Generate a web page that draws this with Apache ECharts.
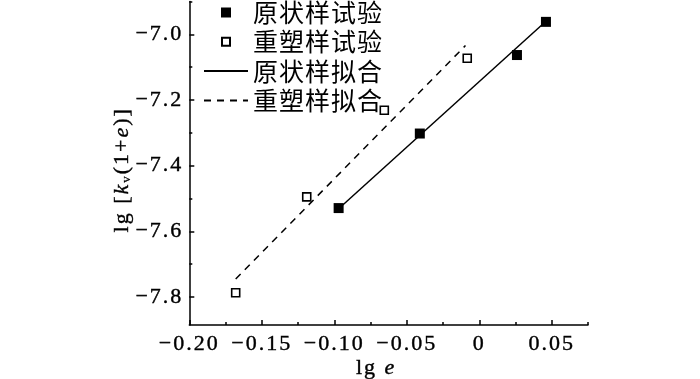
<!DOCTYPE html>
<html>
<head>
<meta charset="utf-8">
<script src="https://cdn.jsdelivr.net/npm/echarts@6/dist/echarts.min.js"></script>
<style>
html,body{margin:0;padding:0;background:#fff;}
#c{width:700px;height:379px;}
</style>
</head>
<body>
<div id="c"></div>
<script>
// ---- data ----
var undisturbedX = [-0.097, -0.041, 0.026, 0.046];
var undisturbedY = [-7.529, -7.302, -7.063, -6.962];
var remoldedX = [-0.168, -0.119, -0.0655, -0.0083];
var remoldedY = [-7.787, -7.495, -7.231, -7.073];
var fitUndisturbedX = [-0.097, 0.046];
var fitUndisturbedY = [-7.531, -6.960];
var fitRemoldedX = [-0.168, -0.0095];
var fitRemoldedY = [-7.745, -7.034];
var xTicks = [-0.20, -0.15, -0.10, -0.05, 0, 0.05];
var xMinorTicks = [-0.175, -0.125, -0.075, -0.025, 0.025, 0.075];
var yTicks = [-7.8, -7.6, -7.4, -7.2, -7.0];
var yMinorTicks = [-7.7, -7.5, -7.3, -7.1, -6.9];
var seriesNames = ['原状样试验', '重塑样试验', '原状样拟合', '重塑样拟合'];

// letter spacing to mimic the reference typography
(function(){
  var P = window.CanvasRenderingContext2D && CanvasRenderingContext2D.prototype;
  if (!P || !('letterSpacing' in P)) return;
  var d = Object.getOwnPropertyDescriptor(P, 'font');
  if (!d || !d.set) return;
  Object.defineProperty(P, 'font', {
    configurable: true,
    get: function(){ return d.get.call(this); },
    set: function(v){ d.set.call(this, v); try { this.letterSpacing = /CJK/.test(v) ? '1px' : '2px'; } catch(e){} }
  });
})();

function zip(xs, ys){ return xs.map(function(x, i){ return [x, ys[i]]; }); }
function minus(s){ return String(s).replace('-', '\u2212'); }

var serif = "'Liberation Serif'";
var chart = echarts.init(document.getElementById('c'), null, {renderer: 'canvas'});

var axisLineStyle = {color: '#000', width: 1.5};
function ts(extra){ var o = {fontFamily: serif, fontSize: 22, color: '#000', textBorderColor: '#000', textBorderWidth: 0.4}; for (var k in extra) o[k] = extra[k]; return o; }

var option = {
  backgroundColor: '#fff',
  animation: false,
  grid: {left: 189.3, right: 112, top: 1.5, bottom: 54, containLabel: false, outerBoundsMode: 'none'},
  legend: {
    orient: 'vertical',
    left: 203,
    top: -0.5,
    padding: 0,
    itemWidth: 44,
    itemHeight: 10,
    itemGap: 3.3,
    symbolKeepAspect: true,
    data: [
      {name: seriesNames[0], icon: 'path://M0,0L10,0L10,10L0,10Z'},
      {name: seriesNames[1], icon: 'path://M-1,-1L-1,-1M0,0L8,0L8,8L0,8ZM9,9L9,9'},
      {name: seriesNames[2], itemStyle: {opacity: 0}},
      {name: seriesNames[3], itemStyle: {opacity: 0}}
    ],
    textStyle: {fontFamily: "'Noto Sans CJK SC'", fontSize: 25, lineHeight: 25, color: '#000'}
  },
  xAxis: [{
    type: 'value',
    min: -0.2, max: 0.075,
    position: 'bottom',
    name: '{a|lg }{b|e}',
    nameLocation: 'middle',
    nameGap: 31,
    nameMoveOverlap: false,
    nameTextStyle: {
      padding: [0, 25, 0, 0],
      rich: {
        a: ts({}),
        b: ts({fontStyle: 'italic'})
      }
    },
    axisLine: {show: true, onZero: false, lineStyle: axisLineStyle},
    axisTick: {show: true, inside: true, length: 5, lineStyle: {color: '#000', width: 1.5}, customValues: xTicks},
    axisLabel: Object.assign({
      customValues: xTicks,
      margin: 7,
      formatter: function(v){ return Math.abs(v) < 1e-9 ? '0' : minus(v.toFixed(2)); }
    }, ts({})),
    splitLine: {show: false}
  }, {
    type: 'value',
    min: -0.2, max: 0.075,
    position: 'bottom',
    axisLine: {show: false, onZero: false},
    axisTick: {show: true, inside: true, length: 3, lineStyle: {color: '#000', width: 1.5}, customValues: xMinorTicks},
    axisLabel: {show: false},
    splitLine: {show: false}
  }],
  yAxis: [{
    type: 'value',
    min: -7.885, max: -6.9,
    position: 'left',
    name: '{a|lg [}{b|k}{c|v}{a|(1+}{b|e}{a|)]}',
    nameLocation: 'middle',
    nameGap: 55,
    nameMoveOverlap: false,
    nameTextStyle: {
      padding: [0, 13, 0, 0],
      rich: {
        a: ts({lineHeight: 24}),
        b: ts({fontStyle: 'italic', lineHeight: 24}),
        c: ts({fontSize: 13, verticalAlign: 'bottom', lineHeight: 24, textBorderWidth: 0.2})
      }
    },
    axisLine: {show: true, onZero: false, lineStyle: axisLineStyle},
    axisTick: {show: true, inside: true, length: 5, lineStyle: {color: '#000', width: 1.5}, customValues: yTicks},
    axisLabel: Object.assign({
      customValues: yTicks,
      margin: 6,
      formatter: function(v){ return minus(v.toFixed(1)); }
    }, ts({})),
    splitLine: {show: false}
  }, {
    type: 'value',
    min: -7.885, max: -6.9,
    position: 'left',
    axisLine: {show: false, onZero: false},
    axisTick: {show: true, inside: true, length: 3, lineStyle: {color: '#000', width: 1.5}, customValues: yMinorTicks},
    axisLabel: {show: false},
    splitLine: {show: false}
  }],
  series: [{
    name: seriesNames[0],
    type: 'scatter',
    symbol: 'rect',
    symbolSize: 10,
    itemStyle: {color: '#000', opacity: 1},
    data: zip(undisturbedX, undisturbedY),
    z: 5
  }, {
    name: seriesNames[1],
    type: 'scatter',
    symbol: 'rect',
    symbolSize: 8,
    itemStyle: {color: '#fff', borderColor: '#000', borderWidth: 1.6, opacity: 1},
    data: zip(remoldedX, remoldedY),
    z: 5
  }, {
    name: seriesNames[2],
    type: 'line',
    symbol: 'none',
    lineStyle: {color: '#000', width: 1.5, type: 'solid'},
    itemStyle: {color: '#000'},
    data: zip(fitUndisturbedX, fitUndisturbedY),
    z: 3
  }, {
    name: seriesNames[3],
    type: 'line',
    symbol: 'none',
    lineStyle: {color: '#000', width: 1.5, type: [7, 6]},
    itemStyle: {color: '#000'},
    data: zip(fitRemoldedX, fitRemoldedY),
    z: 3
  }]
};
chart.setOption(option);
</script>
</body>
</html>
